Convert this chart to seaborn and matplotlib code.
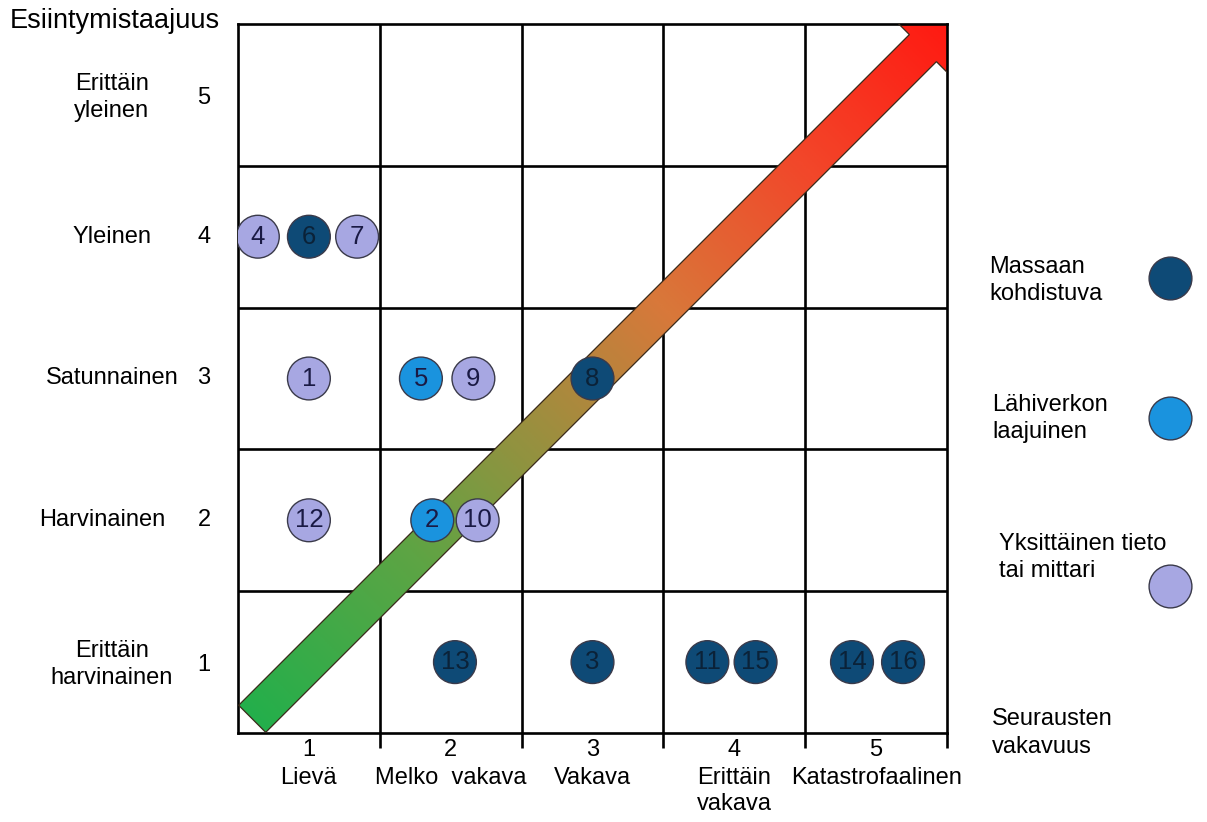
import numpy as np
import pandas as pd
import matplotlib
matplotlib.use("Agg")
import matplotlib.pyplot as plt
import seaborn as sns
from matplotlib.colors import LinearSegmentedColormap
from matplotlib.patches import Polygon

# ---------------- data ----------------
ids = [4, 6, 7, 1, 5, 9, 8, 12, 2, 10, 13, 3, 11, 15, 14, 16]
severity = [0.64, 1.0, 1.34, 1.0, 1.79, 2.16, 3.0, 1.0, 1.87, 2.19, 2.03, 3.0, 3.81, 4.15, 4.83, 5.19]
frequency = [4, 4, 4, 3, 3, 3, 3, 2, 2, 2, 1, 1, 1, 1, 1, 1]
kinds = ["Yksittäinen", "Massaan", "Yksittäinen", "Yksittäinen", "Lähiverkon", "Yksittäinen",
         "Massaan", "Yksittäinen", "Lähiverkon", "Yksittäinen", "Massaan", "Massaan",
         "Massaan", "Massaan", "Massaan", "Massaan"]

kind_names = ["Massaan", "Lähiverkon", "Yksittäinen"]
kind_labels = ["Massaan\nkohdistuva", "Lähiverkon\nlaajuinen", "Yksittäinen tieto\ntai mittari"]
kind_colors = ["#0e4a76", "#1a93de", "#a7a7e2"]

freq_levels = [1, 2, 3, 4, 5]
freq_labels = ["Erittäin\nharvinainen", "Harvinainen", "Satunnainen", "Yleinen", "Erittäin\nyleinen"]
sev_levels = [1, 2, 3, 4, 5]
sev_labels = ["Lievä", "Melko  vakava", "Vakava", "Erittäin\nvakava", "Katastrofaalinen"]

df = pd.DataFrame({"id": ids, "sev": severity, "freq": frequency, "kind": kinds})

# ---------------- figure ----------------
sns.set_theme(style="white")
plt.rcParams["font.family"] = ["Liberation Sans", "DejaVu Sans"]
plt.rcParams["text.color"] = "black"

fig = plt.figure(figsize=(12.07, 8.22), dpi=100)
ax = fig.add_axes([238 / 1207, 1 - 733 / 822, 709 / 1207, 709 / 822])
ax.set_xlim(0.5, 5.5)
ax.set_ylim(0.5, 5.5)

# grid
for v in [1.5, 2.5, 3.5, 4.5]:
    ax.axvline(v, color="black", lw=1.9, zorder=1)
    ax.axhline(v, color="black", lw=1.9, zorder=1)
for s in ax.spines.values():
    s.set_color("black")
    s.set_linewidth(1.9)
    s.set_visible(True)

# gradient arrow
w = 0.135  # half width of shaft
start = 0.6
hb = 5.33  # head base along diagonal
hw = 0.33  # head half width
tip = 5.72
d = w / np.sqrt(2)
hd = hw / np.sqrt(2)
poly = [
    (start - d, start + d),
    (hb - d, hb + d),
    (hb - hd, hb + hd),
    (tip, tip),
    (hb + hd, hb - hd),
    (hb + d, hb - d),
    (start + d, start - d),
]
cmap = LinearSegmentedColormap.from_list(
    "arr", [(0.0, "#1fb04c"), (0.25, "#5ea444"), (0.45, "#a48c3e"),
            (0.6, "#d8783a"), (0.8, "#f2472a"), (1.0, "#ff1a12")])
gx, gy = np.meshgrid(np.linspace(0.5, 5.5, 400), np.linspace(0.5, 5.5, 400))
grad = ((gx + gy) / 2 - 0.5) / 5.0
patch = Polygon(poly, closed=True, facecolor="none", edgecolor="#3a2a1a", lw=0.9, zorder=3)
ax.add_patch(patch)
im = ax.imshow(grad, extent=[0.5, 5.5, 0.5, 5.5], origin="lower", cmap=cmap,
               vmin=0, vmax=1, zorder=2, aspect="auto")
im.set_clip_path(patch)

# circles
palette = dict(zip(kind_names, kind_colors))
msize = 950
sns.scatterplot(data=df, x="sev", y="freq", hue="kind", palette=palette, s=msize,
                edgecolor="#3a3a4a", linewidth=1.0, legend=False, ax=ax, zorder=4)
for _, r in df.iterrows():
    tc = "#0b2238" if r["kind"] == "Massaan" else "#1a1a44"
    ax.text(r["sev"], r["freq"], str(r["id"]), ha="center", va="center",
            fontsize=18.5, color=tc, zorder=5)

ax.set_xlabel("")
ax.set_ylabel("")
ax.set_xticks([1.5, 2.5, 3.5, 4.5, 5.5])
ax.set_xticklabels([])
ax.set_yticks([])
ax.tick_params(axis="x", direction="out", length=11, width=1.9, color="black", bottom=True)

fs = 17
# y labels
ylab_x = [-0.39, -0.46, -0.39, -0.39, -0.39]
for lev, lab, lx in zip(freq_levels, freq_labels, ylab_x):
    yy = lev - 0.02 if lev in (1, 5) else lev
    ax.text(lx, yy, lab, ha="center", va="center", fontsize=fs, linespacing=1.3, clip_on=False)
    ax.text(0.26, yy, str(lev), ha="center", va="center", fontsize=fs, clip_on=False)

# x labels
for lev, lab in zip(sev_levels, sev_labels):
    ax.text(lev, 0.38, str(lev), ha="center", va="center", fontsize=fs, clip_on=False)
    ax.text(lev, 0.26, lab, ha="center", va="top", fontsize=fs, linespacing=1.25, clip_on=False)

ax.text(-1.11, 5.52, "Esiintymistaajuus", ha="left", va="center", fontsize=19.5, clip_on=False)
ax.text(5.82, 0.5, "Seurausten\nvakavuus", ha="left", va="center", fontsize=fs,
        linespacing=1.35, clip_on=False)

# legend
leg_y = [3.71, 2.72, 1.54]
leg_text_y = [3.69, 2.72, 1.74]
leg_text_x = [5.80, 5.82, 5.87]
for name, lab, col, ly, ty, tx in zip(kind_names, kind_labels, kind_colors, leg_y, leg_text_y, leg_text_x):
    ax.scatter([7.07], [ly], s=msize, color=col, edgecolor="#3a3a4a", linewidth=1.0,
               clip_on=False, zorder=4)
    ax.text(tx, ty, lab, ha="left", va="center", fontsize=fs, linespacing=1.3, clip_on=False)

fig.savefig("out.png", dpi=100)
